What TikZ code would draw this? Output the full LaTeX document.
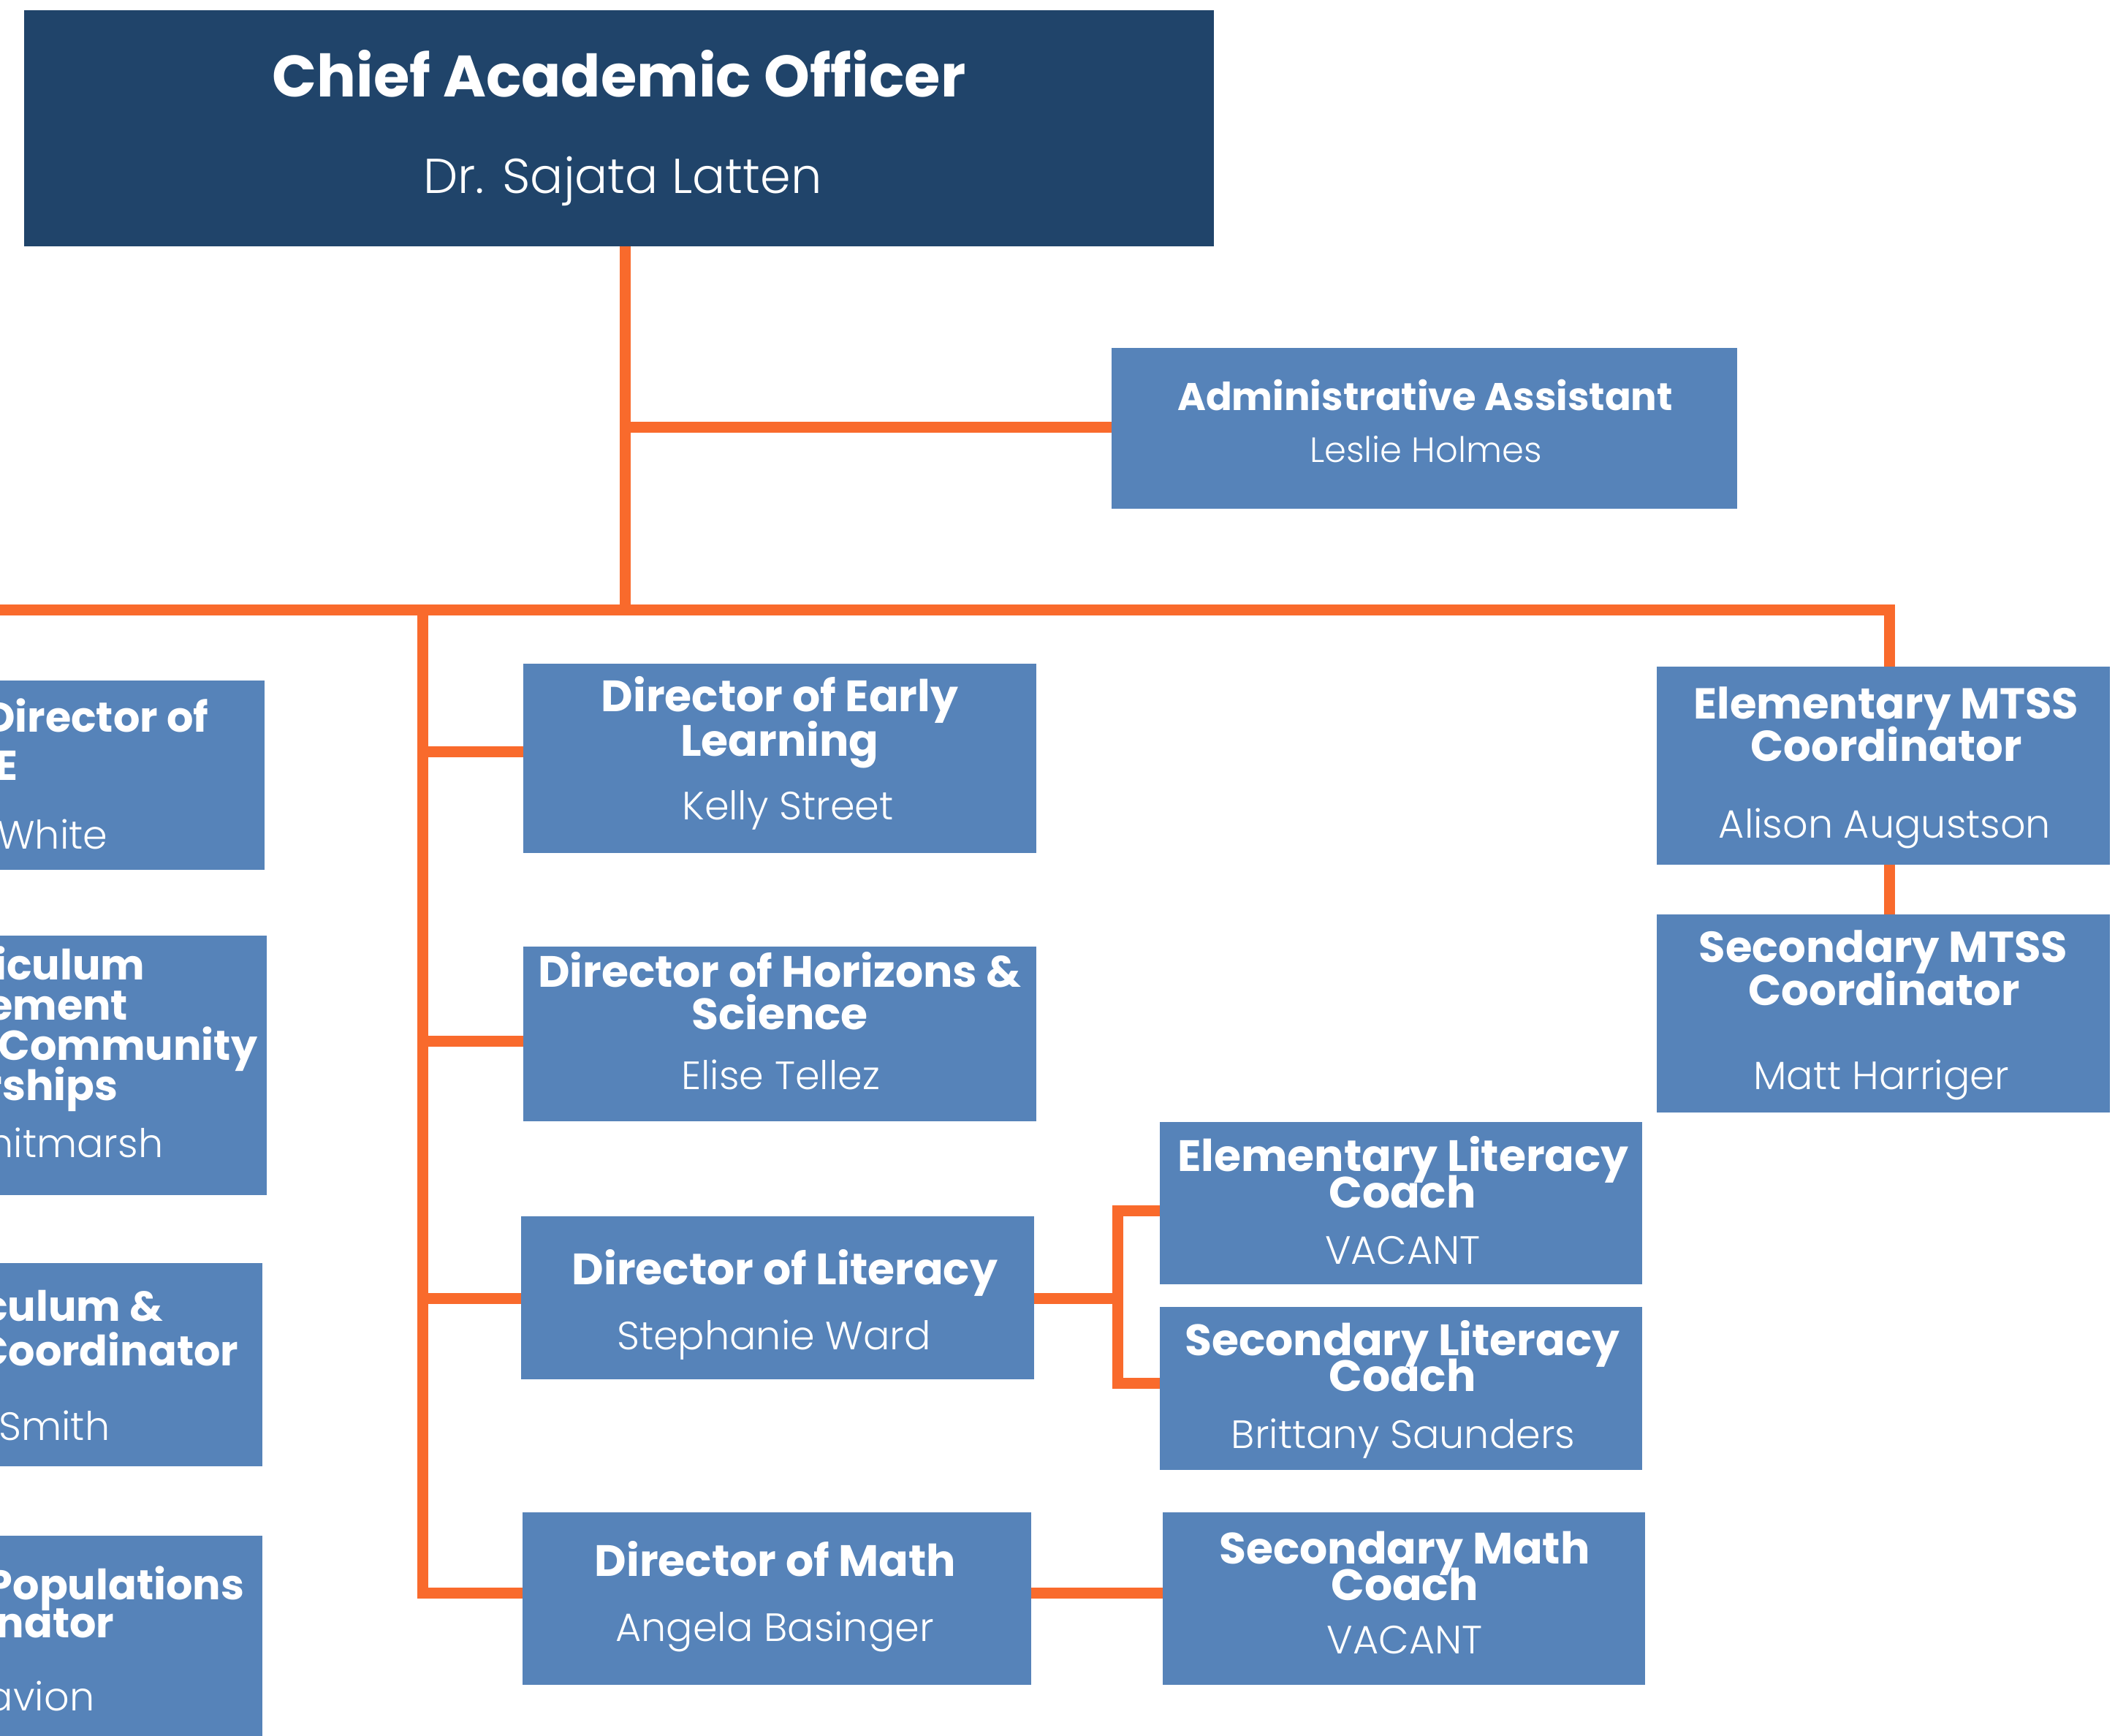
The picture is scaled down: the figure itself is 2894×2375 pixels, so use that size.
\documentclass[tikz,border=0pt]{standalone}
\usepackage{fontspec}
\setmainfont{Poppins}
\newfontfamily\nmfont{Poppins Light}
\definecolor{navy}{HTML}{20446A}
\definecolor{boxblue}{HTML}{5683B9}
\definecolor{org}{HTML}{F96A2C}
\tikzset{
  box/.style={rectangle, fill=boxblue, draw=none, inner sep=0pt, outer sep=0pt},
  link/.style={draw=org, line width=3.75pt},
  ttl/.style={anchor=base, text=white, inner sep=0pt, font=\fontsize{15}{15}\selectfont\bfseries},
  nm/.style={anchor=base, text=white, inner sep=0pt, font=\fontsize{13.5}{13.5}\selectfont\nmfont},
  lttl/.style={ttl, anchor=base east, font=\fontsize{14.3}{14.3}\selectfont\bfseries},
  lnm/.style={nm, anchor=base east}
}
\begin{document}
\begin{tikzpicture}[x=0.25pt,y=-0.25pt]
\clip (0,0) rectangle (2894,2375);
\fill[white] (0,0) rectangle (2894,2375);
% boxes
\node[box, fill=navy, minimum width=407pt, minimum height=80.75pt] (cao) at (847,175.5) {};
\node[box, minimum width=214pt, minimum height=55pt] (admin) at (1949,586) {};
\node[box, minimum width=175.5pt, minimum height=64.75pt] (early) at (1067,1037.5) {};
\node[box, minimum width=175.5pt, minimum height=59.75pt] (horizons) at (1067,1414.5) {};
\node[box, minimum width=175.5pt, minimum height=55.75pt] (literacy) at (1064,1775.5) {};
\node[box, minimum width=174pt, minimum height=59pt] (math) at (1063,2187) {};
\node[box, minimum width=155pt, minimum height=67.75pt] (elmtss) at (2577,1047.5) {};
\node[box, minimum width=155pt, minimum height=67.75pt] (secmtss) at (2577,1386.5) {};
\node[box, minimum width=165pt, minimum height=55.5pt] (elcoach) at (1917,1646) {};
\node[box, minimum width=165pt, minimum height=55.75pt] (seccoach) at (1917,1899.5) {};
\node[box, minimum width=165pt, minimum height=59pt] (mathcoach) at (1921,2187) {};
\node[box, minimum width=175.5pt, minimum height=64.75pt] (lone) at (11,1060.5) {};
\node[box, minimum width=176.25pt, minimum height=88.75pt] (ltwo) at (12.5,1457.5) {};
\node[box, minimum width=174.75pt, minimum height=69.5pt] (lthree) at (9.5,1867) {};
\node[box, minimum width=174.75pt, minimum height=79.75pt] (lfour) at (9.5,2260.5) {};
% connector points
\coordinate (j0) at (855,835);
\coordinate (ja) at (855,585);
\coordinate (jl) at (578,835);
\coordinate (jr) at (2585,835);
\coordinate (bl) at (-30,835);
\coordinate (je) at (578,1028);
\coordinate (jh) at (578,1424);
\coordinate (jt) at (578,1776);
\coordinate (jm) at (578,2179);
\coordinate (k0) at (1529,1776);
\coordinate (k1) at (1529,1656);
\coordinate (k2) at (1529,1892);
% connectors
\draw[link] (cao.south -| j0) -- (j0);
\draw[link] (ja) -- (ja -| admin.west);
\draw[link] (bl) -- (jr) -- (jr |- elmtss.north);
\draw[link] (jr |- elmtss.south) -- (jr |- secmtss.north);
\draw[link] (jl) -- (jm) -- (jm -| math.west);
\draw[link] (je) -- (je -| early.west);
\draw[link] (jh) -- (jh -| horizons.west);
\draw[link] (jt) -- (jt -| literacy.west);
\draw[link] (k0 -| literacy.east) -- (k0);
\draw[link] (k1 -| elcoach.west) -- (k1) -- (k2) -- (k2 -| seccoach.west);
\draw[link] (jm -| math.east) -- (jm -| mathcoach.west);
% texts
\node[ttl, font=\fontsize{20}{20}\selectfont\bfseries] (caoT) at (847,133) {Chief Academic Officer};
\node[nm, font=\fontsize{16.75}{16.75}\selectfont\nmfont] (caoN) at (852,265) {Dr. Sajata Latten};
\node[ttl, font=\fontsize{13.2}{13.2}\selectfont\bfseries] (adminT) at (1950,562) {Administrative Assistant};
\node[nm, font=\fontsize{12}{12}\selectfont\nmfont] (adminN) at (1951,633) {Leslie Holmes};
\node[ttl] (earlyT1) at (1067,974) {Director of Early};
\node[ttl] (earlyT2) at (1067,1034) {Learning};
\node[nm] (earlyN) at (1078,1121) {Kelly Street};
\node[ttl] (horT1) at (1067,1350) {Director of Horizons \&};
\node[ttl] (horT2) at (1067,1408) {Science};
\node[nm] (horN) at (1068,1490) {Elise Tellez};
\node[ttl] (litT) at (1074,1757) {Director of Literacy};
\node[nm] (litN) at (1059,1846) {Stephanie Ward};
\node[ttl] (mathT) at (1061,2156) {Director of Math};
\node[nm] (mathN) at (1060,2245) {Angela Basinger};
\node[ttl, font=\fontsize{14.8}{14.8}\selectfont\bfseries] (elmT1) at (2581,983) {Elementary MTSS};
\node[ttl, font=\fontsize{14.8}{14.8}\selectfont\bfseries] (elmT2) at (2581,1041) {Coordinator};
\node[nm] (elmN) at (2579,1146) {Alison Augustson};
\node[ttl, font=\fontsize{14.8}{14.8}\selectfont\bfseries] (secmT1) at (2577,1316) {Secondary MTSS};
\node[ttl, font=\fontsize{14.8}{14.8}\selectfont\bfseries] (secmT2) at (2578,1375) {Coordinator};
\node[nm] (secmN) at (2574,1490) {Matt Harriger};
\node[ttl] (elcT1) at (1920,1602) {Elementary Literacy};
\node[ttl] (elcT2) at (1919,1652) {Coach};
\node[nm] (elcN) at (1919.5,1729) {VACANT};
\node[ttl] (scT1) at (1919,1854) {Secondary Literacy};
\node[ttl] (scT2) at (1919,1903) {Coach};
\node[nm] (scN) at (1920,1981) {Brittany Saunders};
\node[ttl] (smT1) at (1922,2139) {Secondary Math};
\node[ttl] (smT2) at (1922,2189) {Coach};
\node[nm] (smN) at (1922,2262) {VACANT};
% left, partly cut boxes
\node[lttl] (l1a) at (286,1002) {Director of};
\node[lttl] (l1b) at (25,1067) {E};
\node[lnm] (l1c) at (148,1161) {White};
\node[lttl] (l2a) at (199,1340) {Curriculum};
\node[lttl] (l2b) at (176,1395) {Engagement};
\node[lttl] (l2c) at (353,1450) {\& Community};
\node[lttl] (l2d) at (162,1505) {Partnerships};
\node[lnm] (l2e) at (224,1583) {Whitmarsh};
\node[lttl] (l3a) at (224,1807) {Curriculum \&};
\node[lttl] (l3b) at (327,1868) {Coordinator};
\node[lnm] (l3c) at (151,1970) {Smith};
\node[lttl] (l4a) at (335,2188) {Populations};
\node[lttl] (l4b) at (157,2240) {Coordinator};
\node[lnm] (l4c) at (130,2340) {avion};
\end{tikzpicture}
\end{document}
